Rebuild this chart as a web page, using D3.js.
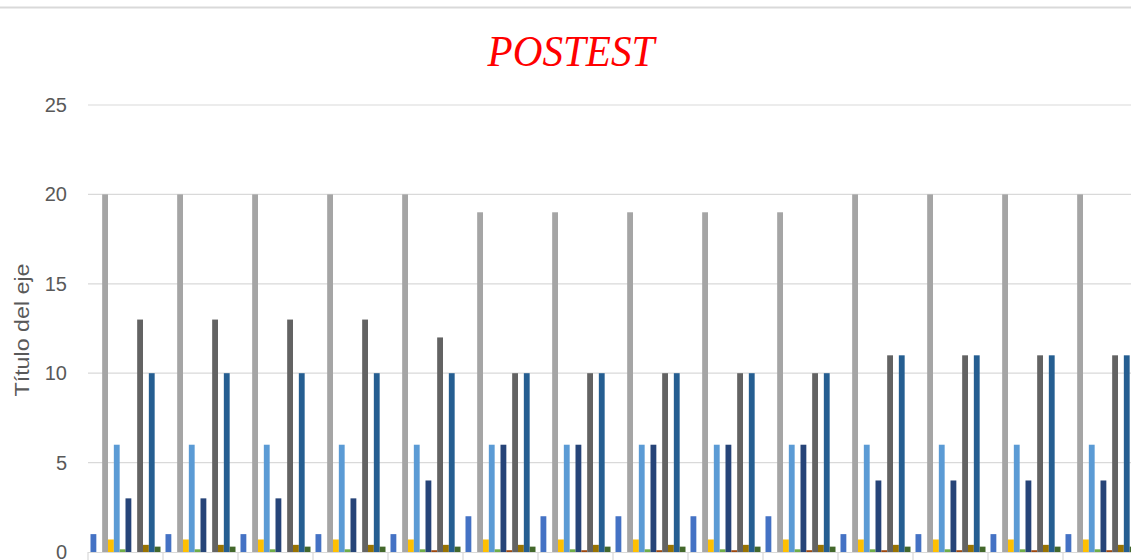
<!DOCTYPE html>
<html>
<head>
<meta charset="utf-8">
<script src="https://cdn.jsdelivr.net/npm/d3@7"></script>
<style>
  body { margin: 0; background: #fff; }
  svg { display: block; }
</style>
</head>
<body>
<script>
// categories (only 15 groups are visible, the last one is cut off at the right)
var categories = ["1","2","3","4","5","6","7","8","9","10","11","12","13","14","15"];
var seriesNames = ["S1","S2","S3","S4","S5","S6","S7","S8","S9","S10","S11","S12"];
var yTicks = [0, 5, 10, 15, 20, 25];

// one array per series, one value per category
var s1  = [1,1,1,1,1, 2,2,2,2,2, 1,1,1,1,1];
var s2  = [0,0,0,0,0, 0,0,0,0,0, 0,0,0,0,0];
var s3  = [20,20,20,20,20, 19,19,19,19,19, 20,20,20,20,20];
var s4  = [0.7,0.7,0.7,0.7,0.7, 0.7,0.7,0.7,0.7,0.7, 0.7,0.7,0.7,0.7,0.7];
var s5  = [6,6,6,6,6, 6,6,6,6,6, 6,6,6,6,6];
var s6  = [0.15,0.15,0.15,0.15,0.15, 0.15,0.15,0.15,0.15,0.15, 0.15,0.15,0.15,0.15,0.15];
var s7  = [3,3,3,3,4, 6,6,6,6,6, 4,4,4,4,4];
var s8  = [0,0,0,0,0.1, 0.1,0.1,0.1,0.1,0.1, 0.1,0.1,0.1,0.1,0.1];
var s9  = [13,13,13,13,12, 10,10,10,10,10, 11,11,11,11,11];
var s10 = [0.4,0.4,0.4,0.4,0.4, 0.4,0.4,0.4,0.4,0.4, 0.4,0.4,0.4,0.4,0.4];
var s11 = [10,10,10,10,10, 10,10,10,10,10, 11,11,11,11,11];
var s12 = [0.3,0.3,0.3,0.3,0.3, 0.3,0.3,0.3,0.3,0.3, 0.3,0.3,0.3,0.3,0.3];

var seriesValues = [s1,s2,s3,s4,s5,s6,s7,s8,s9,s10,s11,s12];
var colors = ["#4472C4","#ED7D31","#A5A5A5","#FFC000","#5B9BD5","#70AD47",
              "#264478","#9E480E","#636363","#997300","#255E91","#43682B"];

var width = 1131;
var height = 560;
var svg = d3.select("body")
    .append("svg")
    .attr("width",width)
    .attr("height",height);

var marge = {top:105,left:88,bottom:8};
var catWidth = 75;

var x0 = d3.scaleBand()
    .domain(categories)
    .range([marge.left, marge.left + categories.length*catWidth]);

var x1 = d3.scaleBand()
    .domain(seriesNames)
    .range([2.5, catWidth - 2.5]);

var y = d3.scaleLinear()
    .domain([0,25])
    .range([height - marge.bottom, marge.top]);

var color = d3.scaleOrdinal()
    .domain(seriesNames)
    .range(colors);

// outer border (only the top edge shows)
svg.append("line")
    .attr("x1",0).attr("x2",width)
    .attr("y1",7.5).attr("y2",7.5)
    .attr("stroke","#d9d9d9")
    .attr("stroke-width",2);

// title
svg.append("text")
    .attr("x",571)
    .attr("y",66)
    .attr("text-anchor","middle")
    .attr("font-family","Liberation Serif")
    .attr("font-style","italic")
    .attr("font-size",44)
    .attr("textLength",167)
    .attr("lengthAdjust","spacingAndGlyphs")
    .attr("fill","#FF0000")
    .text("POSTEST");

// gridlines
svg.append("g")
    .selectAll("line")
    .data(yTicks.slice(1))
    .enter()
    .append("line")
    .attr("x1",marge.left)
    .attr("x2",width)
    .attr("y1",function(d){return y(d);})
    .attr("y2",function(d){return y(d);})
    .attr("stroke","#d9d9d9")
    .attr("stroke-width",1.2);

// y axis labels
var yAxis = d3.axisLeft(y)
    .tickValues(yTicks)
    .tickSize(0)
    .tickPadding(0);
var yg = svg.append("g")
    .attr("transform","translate(67,0)")
    .call(yAxis);
yg.select(".domain").remove();
yg.selectAll("text")
    .attr("font-family","Liberation Sans, Arial, sans-serif")
    .attr("font-size",20)
    .attr("fill","#595959");

// y axis title
svg.append("text")
    .attr("transform","translate(29,330) rotate(-90)")
    .attr("text-anchor","middle")
    .attr("font-family","Liberation Sans, Arial, sans-serif")
    .attr("font-size",20)
    .attr("textLength",133)
    .attr("lengthAdjust","spacingAndGlyphs")
    .attr("fill","#595959")
    .text("Título del eje");

// bars
var groups = svg.append("g")
    .selectAll("g")
    .data(categories)
    .enter()
    .append("g")
    .attr("transform",function(d){return "translate("+x0(d)+",0)";});

groups.selectAll("rect")
    .data(function(d,i){
        return seriesNames.map(function(s,j){
            return {series:s, value:seriesValues[j][i]};
        });
    })
    .enter()
    .append("rect")
    .attr("x",function(d){return x1(d.series);})
    .attr("width",x1.bandwidth())
    .attr("y",function(d){return y(d.value);})
    .attr("height",function(d){return y(0) - y(d.value);})
    .attr("fill",function(d){return color(d.series);});

// x axis line with tick marks between categories
var xg = svg.append("g");
xg.append("line")
    .attr("x1",marge.left)
    .attr("x2",width)
    .attr("y1",y(0)+0.5)
    .attr("y2",y(0)+0.5)
    .attr("stroke","#d9d9d9")
    .attr("stroke-width",1.2);
xg.selectAll(".tick")
    .data(categories)
    .enter()
    .append("line")
    .attr("x1",function(d){return x0(d);})
    .attr("x2",function(d){return x0(d);})
    .attr("y1",y(0))
    .attr("y2",height)
    .attr("stroke","#d9d9d9")
    .attr("stroke-width",1.2);
</script>
</body>
</html>
